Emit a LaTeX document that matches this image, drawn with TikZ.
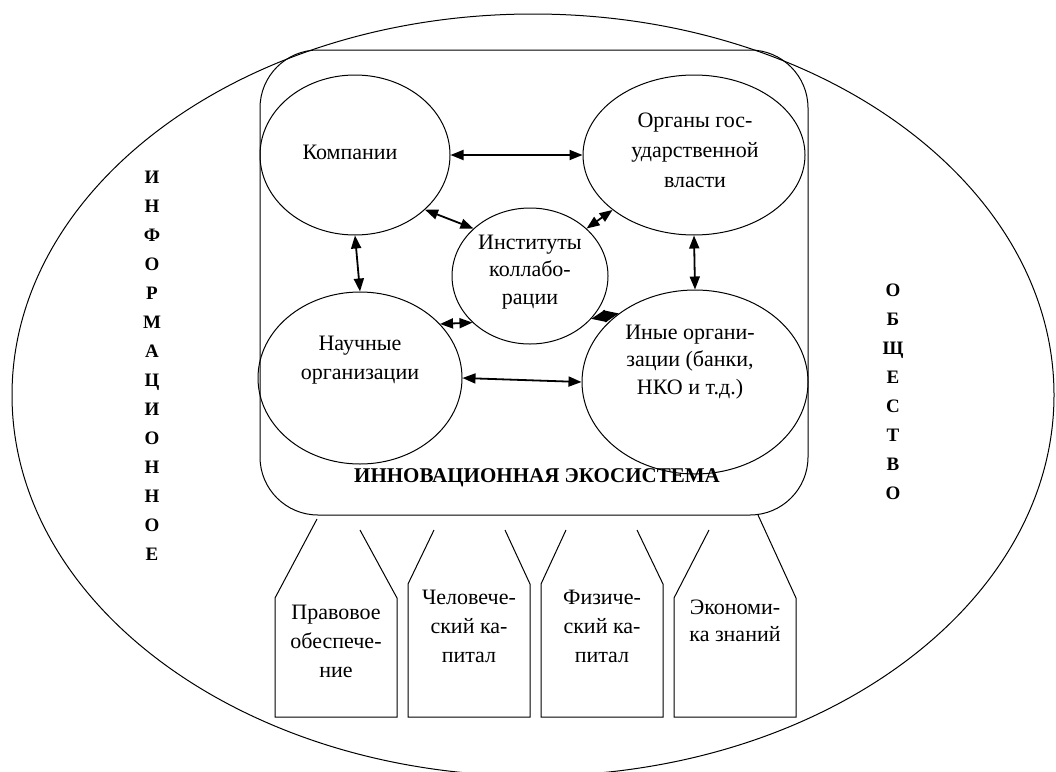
\documentclass[tikz,border=0pt]{standalone}
\usepackage{fontspec}
\setmainfont{Liberation Serif}
\usetikzlibrary{shapes.geometric,arrows.meta}
\begin{document}
\begin{tikzpicture}[x=1pt,y=-1pt,
  txt/.style={font=\fontsize{22}{29.5}\selectfont, align=center, inner sep=0pt},
  vert/.style={font=\fontsize{19}{29}\selectfont\bfseries, align=center, inner sep=0pt},
  oval/.style={draw, ellipse, inner sep=0pt, line width=1pt},
  arr/.style={line width=1.8pt, {Triangle[length=13pt,width=10pt]}-{Triangle[length=13pt,width=10pt]}},
  shortarr/.style={line width=1.8pt, {Triangle[length=15pt,width=12pt]}-{Triangle[length=15pt,width=12pt]}},
  outline/.style={line width=1pt}]
\useasboundingbox (0,0) rectangle (1056,771);
\fill[white] (0,0) rectangle (1056,771);
% outer society ellipse
\draw[outline] (533,395) ellipse [x radius=521, y radius=381];
% ecosystem box
\draw[outline, rounded corners=58pt] (260,50) rectangle (808,515);
% actor ellipses
\node[oval, minimum width=190pt, minimum height=160pt] (komp) at (355,155) {};
\node[oval, minimum width=222pt, minimum height=160pt] (org) at (694,155) {};
\node[oval, minimum width=156pt, minimum height=136pt] (inst) at (530,276) {};
\node[oval, minimum width=204pt, minimum height=172pt] (nauch) at (360,378) {};
\node[oval, minimum width=226pt, minimum height=184pt] (inye) at (695,382) {};
% texts
\node[txt] (tkomp) at (350,152) {Компании};
\node[txt, font=\fontsize{22}{30}\selectfont] (torg) at (695,150) {Органы гос-\\ударственной\\власти};
\node[txt, font=\fontsize{22}{27.5}\selectfont] (tinst) at (530,272) {Институты\\коллабо-\\рации};
\node[txt] (tnauch) at (360,360) {Научные\\организации};
\node[txt, font=\fontsize{22}{27.5}\selectfont] (tinye) at (690,362) {Иные органи-\\зации (банки,\\НКО и т.д.)};
\node[font=\fontsize{21}{24}\selectfont\bfseries, inner sep=0pt] (teco) at (537,478) {ИННОВАЦИОННАЯ ЭКОСИСТЕМА};
\node[vert] (tinfo) at (152,366) {И\\Н\\Ф\\О\\Р\\М\\А\\Ц\\И\\О\\Н\\Н\\О\\Е};
\node[vert] (tobsh) at (893,392) {О\\Б\\Щ\\Е\\С\\Т\\В\\О};
% connectors
\draw[arr] (komp.east) -- (org.west);
\draw[arr] (nauch.east) -- (inye.west);
\draw[arr] (komp.south) -- (nauch.north);
\draw[arr] (org.south) -- (inye.north);
\draw[arr] (komp.-38) -- (inst.140);
\draw[arr] (org.214) -- (inst.40);
\draw[arr] (nauch.34) -- (inst.219);
\draw[shortarr] (inst.-35) -- (inye.138);
% pillars
\draw[outline] (317,519) -- (275,598) -- (275,717) -- (397,717) -- (397,598) -- (360,530);
\draw[outline] (434,530) -- (408,584) -- (408,717) -- (530,717) -- (530,584) -- (505,530);
\draw[outline] (566,530) -- (541,584) -- (541,717) -- (663,717) -- (663,584) -- (637,530);
\draw[outline] (709,530) -- (674,598) -- (674,717) -- (796,717) -- (796,598) -- (758,515);
\node[txt, font=\fontsize{22}{29}\selectfont] (p1) at (336,641) {Правовое\\обеспече-\\ние};
\node[txt, font=\fontsize{22}{29}\selectfont] (p2) at (469,626) {Человече-\\ский ка-\\питал};
\node[txt, font=\fontsize{22}{29}\selectfont] (p3) at (602,626) {Физиче-\\ский ка-\\питал};
\node[txt, font=\fontsize{22}{27}\selectfont] (p4) at (735,621) {Экономи-\\ка знаний};
\end{tikzpicture}
\end{document}
